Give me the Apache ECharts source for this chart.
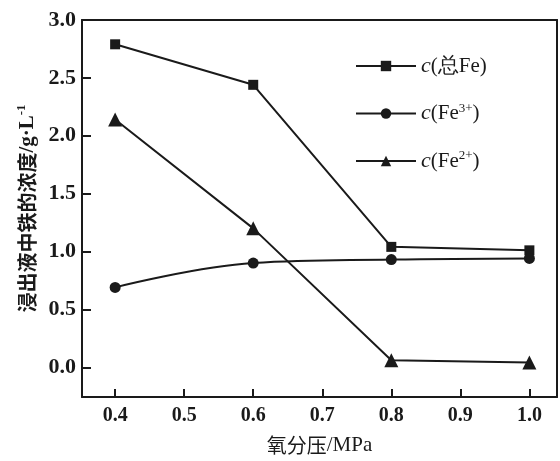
<!DOCTYPE html>
<html lang="zh-CN">
<head>
    <meta charset="UTF-8">
    <title>氧分压对浸出液中铁浓度的影响</title>
    <script src="https://cdn.jsdelivr.net/npm/echarts/dist/echarts.min.js"></script>
    <style>
        body { margin: 0; background: #fff; }
        #chart { width: 560px; height: 461px; }
    </style>
</head>
<body>
<div id="chart"></div>
<script>
    // 数据
    const pressure = [0.4, 0.6, 0.8, 1.0];
    const totalFe = [2.79, 2.44, 1.04, 1.01];
    const fe3 = [0.69, 0.90, 0.93, 0.94];
    const fe2 = [2.14, 1.20, 0.06, 0.04];
    const xTicks = [0.4, 0.5, 0.6, 0.7, 0.8, 0.9, 1.0];
    const yTicks = [0, 0.5, 1.0, 1.5, 2.0, 2.5, 3.0];

    const chart = echarts.init(document.getElementById('chart'));
    const black = '#1a1a1a';
    const serif = '"Liberation Serif", "Times New Roman", serif';
    const cjk = '"Noto Sans CJK SC", sans-serif';

    const pairs = ys => pressure.map((x, i) => [x, ys[i]]);
    const legendText = {
        'c(总Fe)': '{i|c}(总Fe)',
        'c(Fe3+)': '{i|c}(Fe{s|3+})',
        'c(Fe2+)': '{i|c}(Fe{s|2+})'
    };

    function line(name, data, symbol, size, smooth) {
        return {
            name: name,
            type: 'line',
            data: pairs(data),
            symbol: symbol,
            symbolSize: size,
            smooth: smooth,
            itemStyle: { color: black },
            lineStyle: { color: black, width: 2 }
        };
    }

    chart.setOption({
        animation: false,
        grid: { left: 82, right: 3, top: 20, bottom: 61 },
        legend: {
            orient: 'vertical',
            left: 350,
            top: 50,
            itemWidth: 60,
            itemHeight: 13,
            itemGap: 25,
            data: ['c(总Fe)', 'c(Fe3+)', 'c(Fe2+)'],
            formatter: n => legendText[n],
            textStyle: {
                fontFamily: serif,
                fontSize: 21,
                color: black,
                rich: {
                    i: { fontStyle: 'italic', fontFamily: serif, fontSize: 22, color: black },
                    s: { fontSize: 13, fontFamily: serif, color: black, padding: [0, 0, 10, 0] }
                }
            }
        },
        xAxis: [{
            type: 'value',
            min: 0.352,
            max: 1.04,
            name: '氧分压{u|/MPa}',
            nameLocation: 'middle',
            nameGap: 38,
            nameTextStyle: {
                fontFamily: cjk, fontSize: 20, color: black,
                rich: { u: { fontFamily: serif, fontSize: 21, color: black } }
            },
            axisLine: { onZero: false, lineStyle: { color: black, width: 2 } },
            axisTick: { inside: true, length: 8, customValues: xTicks, lineStyle: { color: black, width: 2 } },
            axisLabel: {
                customValues: xTicks,
                margin: 9,
                fontFamily: serif, fontSize: 20, fontWeight: 'bold', color: black,
                formatter: v => v.toFixed(1)
            },
            splitLine: { show: false }
        }, {
            type: 'value',
            position: 'top',
            min: 0.352,
            max: 1.04,
            axisLine: { onZero: false, lineStyle: { color: black, width: 2 } },
            axisTick: { show: false },
            axisLabel: { show: false },
            splitLine: { show: false }
        }],
        yAxis: [{
            type: 'value',
            min: -0.257,
            max: 3.0,
            name: '浸出液中铁的浓度{u|/g·L}{s|-1}',
            nameLocation: 'middle',
            nameGap: 37,
            nameTextStyle: {
                fontFamily: cjk, fontSize: 20, fontWeight: 'bold', color: black,
                rich: {
                    u: { fontFamily: serif, fontSize: 21, color: black },
                    s: { fontSize: 13, fontFamily: serif, color: black, padding: [0, 0, 10, 0] }
                }
            },
            axisLine: { onZero: false, lineStyle: { color: black, width: 2 } },
            axisTick: { inside: true, length: 9, customValues: yTicks, lineStyle: { color: black, width: 2 } },
            axisLabel: {
                customValues: yTicks,
                margin: 6,
                fontFamily: serif, fontSize: 22, fontWeight: 'bold', color: black,
                formatter: v => v.toFixed(1)
            },
            splitLine: { show: false }
        }, {
            type: 'value',
            position: 'right',
            min: -0.257,
            max: 3.0,
            axisLine: { show: true, onZero: false, lineStyle: { color: black, width: 2 } },
            axisTick: { show: false },
            axisLabel: { show: false },
            splitLine: { show: false }
        }],
        series: [
            line('c(总Fe)', totalFe, 'rect', 10, false),
            line('c(Fe3+)', fe3, 'circle', 11, 0.4),
            line('c(Fe2+)', fe2, 'triangle', 14, false)
        ]
    });
</script>
</body>
</html>
